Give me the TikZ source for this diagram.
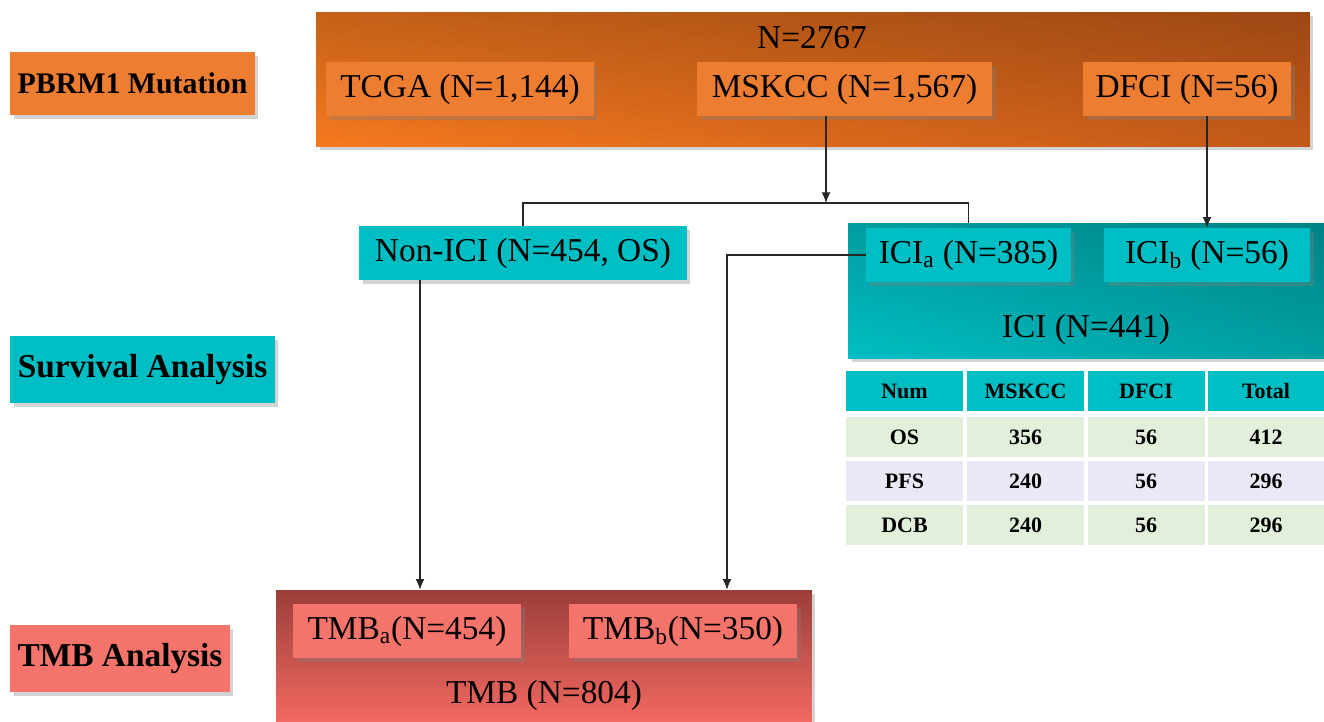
\documentclass[tikz,border=0pt]{standalone}
\usepackage{fontspec}
\setmainfont{Liberation Serif}
\usetikzlibrary{calc,shadows,arrows.meta,fadings}
\definecolor{orng}{HTML}{ED7D31}
\definecolor{orngright}{HTML}{C45A1A}
\definecolor{orngleft}{HTML}{F67A1F}
\definecolor{tealc}{RGB}{0,191,196}
\definecolor{tealright}{HTML}{00A0A2}
\definecolor{salmon}{HTML}{F4736B}
\definecolor{reddark}{HTML}{9B3E39}
\definecolor{redlow}{HTML}{F26961}
\definecolor{grn}{HTML}{E2EFDA}
\definecolor{lav}{HTML}{E8E9F5}

\tikzset{
  shd/.style={drop shadow={shadow xshift=2pt, shadow yshift=-2pt, opacity=0.35}},
  box/.style={rectangle, inner sep=0pt, minimum height=1.08cm, font=\fontsize{19}{22}\selectfont, shd},
  bigbox/.style={rectangle, inner sep=0pt, shd},
  topdark/.style={black, opacity=#1, path fading=south},
  lbl/.style={rectangle, inner sep=0pt, minimum height=1.34cm, font=\bfseries\fontsize{19}{22}\selectfont, shd},
  cell/.style={rectangle, inner sep=0pt, minimum width=2.34cm, minimum height=0.8cm, font=\bfseries\fontsize{12.5}{15}\selectfont},
  conn/.style={draw=black!85, line width=0.6pt},
  arr/.style={conn, -{Latex[length=6pt,width=5pt]}}
}

\begin{document}
\begin{tikzpicture}[x=0.02cm, y=-0.02cm]
  \useasboundingbox (0,0) rectangle (1324,722);

  % row labels
  \node[lbl, fill=orng, minimum width=4.9cm, minimum height=1.26cm, font=\bfseries\fontsize{17}{20}\selectfont] (lmut) at (132.5,83.5) {PBRM1 Mutation};
  \node[lbl, fill=tealc, minimum width=5.3cm] (lsurv) at (142.5,369.5) {Survival Analysis};
  \node[lbl, fill=salmon, minimum width=4.4cm] (ltmb) at (120,658.5) {TMB Analysis};

  % cohorts
  \node[bigbox, minimum width=19.88cm, minimum height=2.7cm, left color=orngleft, right color=orngright] (mut) at (813,79.5) {};
  \fill[topdark=0.2] (mut.south west) rectangle (mut.north east);
  \node[font=\fontsize{19}{22}\selectfont] (ntot) at (812,38) {N=2767};
  \node[box, fill=orng, minimum width=5.36cm] (tcga) at (460,89) {TCGA (N=1,144)};
  \node[box, fill=orng, minimum width=5.9cm] (mskcc) at (844.5,89) {MSKCC (N=1,567)};
  \node[box, fill=orng, minimum width=4.16cm] (dfci) at (1187,89) {DFCI (N=56)};

  % survival
  \node[box, fill=tealc, minimum width=6.56cm] (nonici) at (523,253) {Non-ICI (N=454, OS)};
  \node[bigbox, minimum width=9.52cm, minimum height=2.72cm, left color=tealc, right color=tealright] (ici) at (1086,291) {};
  \fill[topdark=0.18] (ici.south west) rectangle (ici.north east);
  \node[box, fill=tealc, minimum width=4.1cm] (icia) at (968.5,255) {ICI\textsubscript{a} (N=385)};
  \node[box, fill=tealc, minimum width=4.12cm] (icib) at (1207,255) {ICI\textsubscript{b} (N=56)};
  \node[font=\fontsize{19}{22}\selectfont] (ntici) at ($(ici.south)+(0,-30)$) {ICI (N=441)};

  % table
  \foreach \rowy/\fc/\a/\b/\c/\d [count=\i] in {391/tealc/Num/MSKCC/DFCI/Total,
      437/grn/OS/356/56/412, 481/lav/PFS/240/56/296, 525/grn/DCB/240/56/296}
    \foreach \colx/\t [count=\j] in {904.5/\a, 1025.5/\b, 1146/\c, 1266/\d}
      \node[cell, fill=\fc] (t\i\j) at (\colx,\rowy) {\t};

  % tmb
  \node[bigbox, minimum width=10.72cm, minimum height=2.64cm, top color=reddark, bottom color=redlow] (tmb) at (544,656) {};
  \node[box, fill=salmon, minimum width=4.56cm] (tmba) at (407,631) {TMB\textsubscript{a}(N=454)};
  \node[box, fill=salmon, minimum width=4.56cm] (tmbb) at (683,631) {TMB\textsubscript{b}(N=350)};
  \node[font=\fontsize{19}{22}\selectfont] (nttmb) at ($(tmb.south)+(0,-27)$) {TMB (N=804)};

  % connectors
  \coordinate (split) at (826,203);
  \coordinate (nstart) at ($(nonici.south)+(-103,0)$);
  \coordinate (ibend) at (727,255);
  \draw[arr] (mskcc.south -| split) -- (split);
  \draw[conn] (nonici.north) -- (nonici.north |- split) -- (icia.north |- split) -- (icia.north |- ici.north);
  \draw[arr] (dfci.south -| icib.north) -- (icib.north);
  \draw[arr] (nstart) -- (nstart |- tmb.north);
  \draw[arr] (icia.west) -- (ibend) -- (ibend |- tmb.north);
\end{tikzpicture}
\end{document}
